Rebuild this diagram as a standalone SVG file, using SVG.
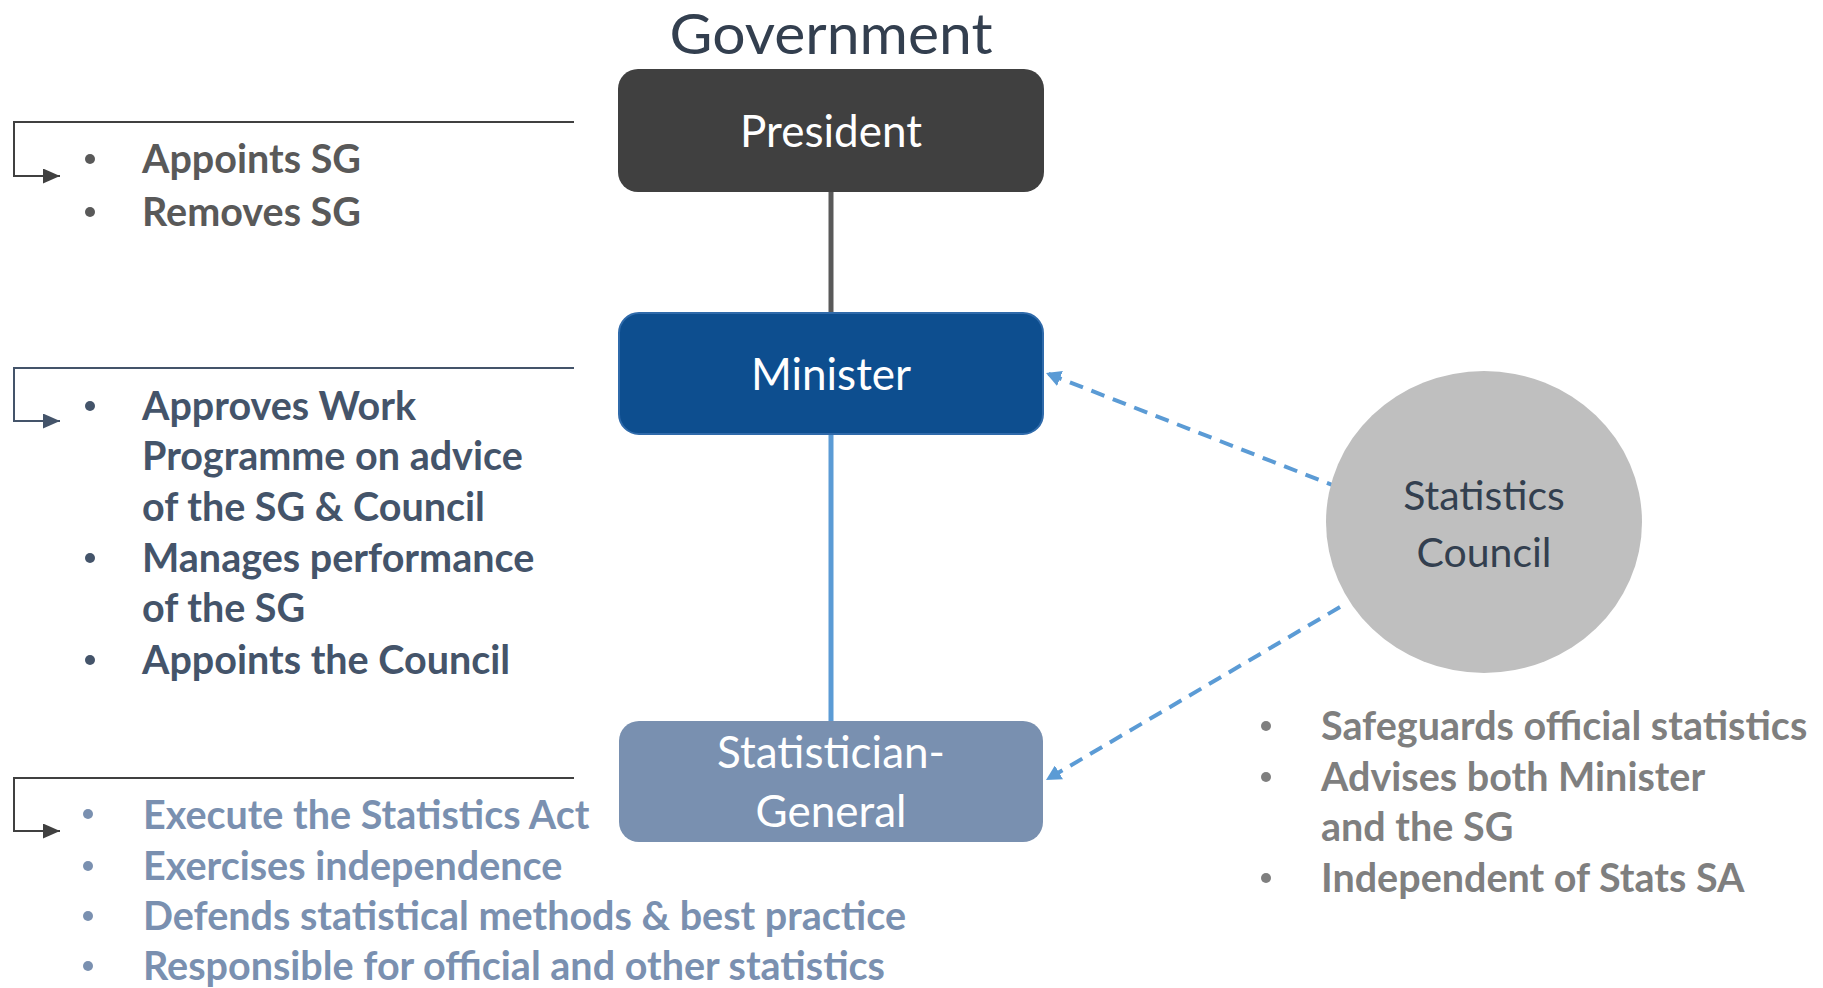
<svg xmlns="http://www.w3.org/2000/svg" width="1823" height="988" viewBox="0 0 1823 988">
<defs>
<style>
text{font-family:Lato,"Open Sans","Liberation Sans",sans-serif}
.title{font-size:57px;fill:#333F4F;text-anchor:middle}
.lbl{font-size:44px;fill:#FFFFFF;text-anchor:middle}
.clbl{font-size:41px;fill:#333F4F;text-anchor:middle}
.b{font-size:39.5px;font-weight:bold}
.g1{fill:#595959}.g2{fill:#44546A}.g3{fill:#7A90B0}.g4{fill:#7F7F7F}
.solid{fill:none;stroke-width:5}
.dash{fill:none;stroke:#5B9BD5;stroke-width:4;stroke-dasharray:14 9}
.elbow{fill:none;stroke-width:2}
</style>
<marker id="ab" markerUnits="userSpaceOnUse" markerWidth="16" markerHeight="16" refX="15" refY="8" orient="auto"><path d="M0,0 L15,8 L0,16 z" fill="#5B9BD5"/></marker>
<marker id="ag" markerUnits="userSpaceOnUse" markerWidth="17" markerHeight="15" refX="17" refY="7.5" orient="auto"><path d="M0,0 L17,7.5 L0,15 z" fill="#404040"/></marker>
<marker id="as" markerUnits="userSpaceOnUse" markerWidth="17" markerHeight="15" refX="17" refY="7.5" orient="auto"><path d="M0,0 L17,7.5 L0,15 z" fill="#44546A"/></marker>
</defs>
<rect width="1823" height="988" fill="#FFFFFF"/>
<text class="title" x="831" y="54" textLength="323" lengthAdjust="spacingAndGlyphs">Government</text>
<g id="connectors">
<line class="solid" x1="831" y1="192" x2="831" y2="312" stroke="#595959"/>
<line class="solid" x1="831" y1="434" x2="831" y2="721" stroke="#5B9BD5"/>
<line class="dash" x1="1340" y1="488" x2="1046" y2="373" marker-end="url(#ab)"/>
<line class="dash" x1="1340" y1="607" x2="1046" y2="780" marker-end="url(#ab)"/>
<path class="elbow" d="M574,122 H14 V176 H60" stroke="#404040" marker-end="url(#ag)"/>
<path class="elbow" d="M574,368 H14 V421 H60" stroke="#44546A" marker-end="url(#as)"/>
<path class="elbow" d="M574,778 H14 V831 H60" stroke="#404040" marker-end="url(#ag)"/>
</g>
<g id="president">
<rect x="618" y="69" width="426" height="123" rx="20" fill="#404040"/>
<text class="lbl" x="831" y="147">President</text>
</g>
<g id="minister">
<rect x="619" y="313" width="424" height="121" rx="20" fill="#0D4E8F" stroke="#2F6AAA" stroke-width="2"/>
<text class="lbl" x="831" y="390">Minister</text>
</g>
<g id="sg">
<rect x="619" y="721" width="424" height="121" rx="20" fill="#7990B0"/>
<text class="lbl" x="831" y="768">Statistician-</text>
<text class="lbl" x="831" y="827">General</text>
</g>
<g id="council">
<ellipse cx="1484" cy="522" rx="158" ry="151" fill="#BFBFBF"/>
<text class="clbl" x="1484" y="510">Statistics</text>
<text class="clbl" x="1484" y="567">Council</text>
</g>
<g id="president-notes" class="g1">
<circle cx="90" cy="159" r="5"/><circle cx="90" cy="212" r="5"/>
<text class="b g1" x="142" y="173">Appoints SG</text>
<text class="b g1" x="142" y="226">Removes SG</text>
</g>
<g id="minister-notes" class="g2">
<circle cx="90" cy="406" r="5"/><circle cx="90" cy="558" r="5"/><circle cx="90" cy="660" r="5"/>
<text class="b g2" x="142" y="420">Approves Work</text>
<text class="b g2" x="142" y="470">Programme on advice</text>
<text class="b g2" x="142" y="521">of the SG &amp; Council</text>
<text class="b g2" x="142" y="572">Manages performance</text>
<text class="b g2" x="142" y="622">of the SG</text>
<text class="b g2" x="142" y="674">Appoints the Council</text>
</g>
<g id="sg-notes" class="g3">
<circle cx="88" cy="814" r="5"/><circle cx="88" cy="866" r="5"/><circle cx="88" cy="916" r="5"/><circle cx="88" cy="966" r="5"/>
<text class="b g3" x="143" y="829">Execute the Statistics Act</text>
<text class="b g3" x="143" y="880">Exercises independence</text>
<text class="b g3" x="143" y="930">Defends statistical methods &amp; best practice</text>
<text class="b g3" x="143" y="980">Responsible for official and other statistics</text>
</g>
<g id="council-notes" class="g4">
<circle cx="1266" cy="726" r="5"/><circle cx="1266" cy="777" r="5"/><circle cx="1266" cy="878" r="5"/>
<text class="b g4" x="1321" y="740">Safeguards official statistics</text>
<text class="b g4" x="1321" y="791">Advises both Minister</text>
<text class="b g4" x="1321" y="841">and the SG</text>
<text class="b g4" x="1321" y="892">Independent of Stats SA</text>
</g>
</svg>
